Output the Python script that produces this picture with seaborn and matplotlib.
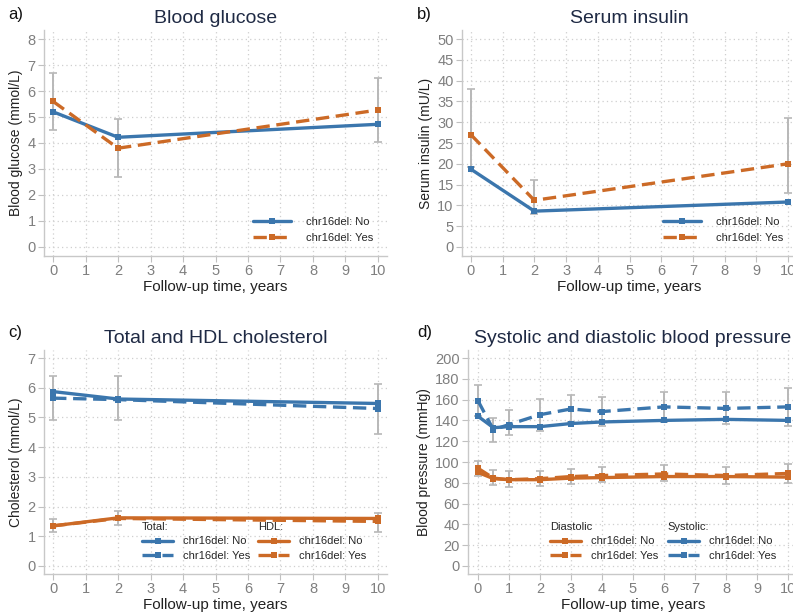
import numpy as np
import pandas as pd
import matplotlib
matplotlib.use("Agg")
import matplotlib.pyplot as plt
import seaborn as sns
from matplotlib.lines import Line2D

# ---------------- data ----------------
years3 = [0, 2, 10]

glucose_no = [5.2, 4.22, 4.72]
glucose_yes = [5.6, 3.8, 5.27]
glucose_yes_lo = [4.5, 2.68, 4.05]
glucose_yes_hi = [6.7, 4.93, 6.5]

insulin_no = [18.7, 8.6, 10.8]
insulin_yes = [27.0, 11.2, 20.0]
insulin_yes_lo = [19.3, 8.0, 13.0]
insulin_yes_hi = [38.0, 16.0, 31.0]

total_no = [5.87, 5.62, 5.47]
total_yes = [5.65, 5.6, 5.3]
total_yes_lo = [4.92, 4.9, 4.45]
total_yes_hi = [6.38, 6.38, 6.13]

hdl_no = [1.35, 1.62, 1.6]
hdl_yes = [1.35, 1.6, 1.5]
hdl_yes_lo = [1.15, 1.38, 1.15]
hdl_yes_hi = [1.58, 1.85, 1.78]

years_bp = [0, 0.5, 1, 2, 3, 4, 6, 8, 10]
sys_no = [144, 133, 134, 134, 137, 138.5, 140, 141, 140]
sys_yes = [159, 131, 136, 145.5, 151, 148.5, 153, 151.5, 153]
sys_yes_lo = [144, 119.5, 125.5, 130, 138, 135, 138, 137, 135]
sys_yes_hi = [174.5, 142.5, 150, 161, 164, 162.5, 167.5, 167.5, 171]
dia_no = [90, 84, 83, 83, 84.5, 85, 86, 86, 85.5]
dia_yes = [94, 84.5, 83, 84, 86, 87, 88.5, 87, 89]
dia_yes_lo = [87, 78, 76, 77, 79, 80.5, 81.5, 79, 80]
dia_yes_hi = [101, 92.5, 91, 91, 93.5, 95, 97, 95.5, 98.5]

groups = ["No", "Yes"]

# ---------------- style ----------------
BLUE = "#3b76ad"
ORANGE = "#cc6a26"
GREY_EB = "#b8b8b8"
TITLE_C = "#1f2a44"
TICK_C = "#7f7f7f"

sns.set_theme(style="white")
plt.rcParams["font.family"] = ["Liberation Sans", "DejaVu Sans"]

fig = plt.figure(figsize=(7.93, 6.13), dpi=100)

W, H = 793, 613
def ax_rect(l, r, t, b):
    return [l / W, 1 - b / H, (r - l) / W, (b - t) / H]

ax_a = fig.add_axes(ax_rect(44, 387, 30, 256))
ax_b = fig.add_axes(ax_rect(462, 797, 30, 256))
ax_c = fig.add_axes(ax_rect(44, 387, 350, 574))
ax_d = fig.add_axes(ax_rect(468, 798, 350, 574))

LW = 2.4
MS = 4.5
dash_map = {"No": "", "Yes": (4, 2)}
marker_map = {"No": "s", "Yes": "s"}


def frame(x, vals_by_group, measure):
    rows = []
    for g, vals in vals_by_group.items():
        for xi, v in zip(x, vals):
            rows.append({"time": xi, "value": v, "group": g, "measure": measure})
    return pd.DataFrame(rows)


def errbars(ax, x, lo, hi):
    lo = np.asarray(lo); hi = np.asarray(hi)
    mid = (lo + hi) / 2
    ax.errorbar(x, mid, yerr=[mid - lo, hi - mid], fmt="none", ecolor=GREY_EB,
                elinewidth=1.4, capsize=3, capthick=1.2, zorder=1)


def style_axis(ax, ylim, yticks, xlim, ylabel, title):
    ax.set_xlim(*xlim)
    ax.set_ylim(*ylim)
    ax.set_xticks(range(0, 11))
    ax.set_yticks(yticks)
    ax.grid(True, linestyle=(0, (1, 2.5)), color="#cfcfcf", linewidth=0.9)
    ax.set_axisbelow(True)
    for s in ["top", "right"]:
        ax.spines[s].set_visible(False)
    for s in ["left", "bottom"]:
        ax.spines[s].set_color("#c8c8c8")
        ax.spines[s].set_linewidth(1.0)
    ax.tick_params(axis="both", which="both", direction="out", length=4, width=0.8,
                   color="#c0c0c0", labelcolor=TICK_C, labelsize=10.5, pad=2,
                   left=True, bottom=True)
    ax.set_xlabel("Follow-up time, years", fontsize=11, color="#222222", labelpad=1)
    ax.set_ylabel(ylabel, fontsize=10, color="#222222", labelpad=3)
    ax.set_title(title, fontsize=14, color=TITLE_C, pad=5)


def lines(ax, df, palette):
    sns.lineplot(data=df, x="time", y="value", hue="measure", style="group",
                 palette=palette, dashes=dash_map, markers=marker_map,
                 linewidth=LW, markersize=MS, markeredgewidth=0,
                 errorbar=None, legend=False, ax=ax, zorder=3)


def handle(color, dashed):
    return Line2D([], [], color=color, lw=LW, marker="s", markersize=MS,
                  markeredgewidth=0, dashes=(4, 2) if dashed else (None, None),
                  linestyle="--" if dashed else "-")

LEG_KW = dict(frameon=False, fontsize=8, handlelength=3.4, handletextpad=1.4,
              labelspacing=0.55, borderpad=0, borderaxespad=0)
LEG_KW2 = dict(frameon=False, fontsize=8, handlelength=2.8, handletextpad=0.9,
               labelspacing=0.4, borderpad=0, borderaxespad=0,
               title_fontsize=8, alignment="left")

# ---------------- panel a ----------------
errbars(ax_a, years3, glucose_yes_lo, glucose_yes_hi)
df_a = frame(years3, {"No": glucose_no, "Yes": glucose_yes}, "g")
sns.lineplot(data=df_a, x="time", y="value", hue="group", style="group",
             palette={"No": BLUE, "Yes": ORANGE}, dashes=dash_map, markers=marker_map,
             linewidth=LW, markersize=MS, markeredgewidth=0, errorbar=None,
             legend=False, ax=ax_a, zorder=3)
style_axis(ax_a, (-0.35, 8.35), range(0, 9), (-0.28, 10.28),
           "Blood glucose (mmol/L)", "Blood glucose")
ax_a.legend([handle(BLUE, False), handle(ORANGE, True)],
            ["chr16del: No", "chr16del: Yes"], loc="center left",
            bbox_to_anchor=(0.609, 0.115), **LEG_KW)

# ---------------- panel b ----------------
errbars(ax_b, years3, insulin_yes_lo, insulin_yes_hi)
df_b = frame(years3, {"No": insulin_no, "Yes": insulin_yes}, "i")
sns.lineplot(data=df_b, x="time", y="value", hue="group", style="group",
             palette={"No": BLUE, "Yes": ORANGE}, dashes=dash_map, markers=marker_map,
             linewidth=LW, markersize=MS, markeredgewidth=0, errorbar=None,
             legend=False, ax=ax_b, zorder=3)
style_axis(ax_b, (-2.2, 52.2), range(0, 51, 5), (-0.28, 10.28),
           "Serum insulin (mU/L)", "Serum insulin")
ax_b.legend([handle(BLUE, False), handle(ORANGE, True)],
            ["chr16del: No", "chr16del: Yes"], loc="center left",
            bbox_to_anchor=(0.60, 0.115), **LEG_KW)

# ---------------- panel c ----------------
errbars(ax_c, years3, total_yes_lo, total_yes_hi)
errbars(ax_c, years3, hdl_yes_lo, hdl_yes_hi)
df_c = pd.concat([frame(years3, {"No": total_no, "Yes": total_yes}, "Total"),
                  frame(years3, {"No": hdl_no, "Yes": hdl_yes}, "HDL")])
lines(ax_c, df_c, {"Total": BLUE, "HDL": ORANGE})
style_axis(ax_c, (-0.27, 7.27), range(0, 8), (-0.28, 10.28),
           "Cholesterol (mmol/L)", "Total and HDL cholesterol")
leg1 = ax_c.legend([handle(BLUE, False), handle(BLUE, True)],
                   ["chr16del: No", "chr16del: Yes"], loc="upper left",
                   bbox_to_anchor=(0.286, 0.232), title="Total:", **LEG_KW2)
ax_c.add_artist(leg1)
ax_c.legend([handle(ORANGE, False), handle(ORANGE, True)],
            ["chr16del: No", "chr16del: Yes"], loc="upper left",
            bbox_to_anchor=(0.624, 0.232), title="HDL:", **LEG_KW2)

# ---------------- panel d ----------------
errbars(ax_d, years_bp, sys_yes_lo, sys_yes_hi)
errbars(ax_d, years_bp, dia_yes_lo, dia_yes_hi)
df_d = pd.concat([frame(years_bp, {"No": sys_no, "Yes": sys_yes}, "Systolic"),
                  frame(years_bp, {"No": dia_no, "Yes": dia_yes}, "Diastolic")])
lines(ax_d, df_d, {"Systolic": BLUE, "Diastolic": ORANGE})
style_axis(ax_d, (-7.7, 207.7), range(0, 201, 20), (-0.32, 10.32),
           "Blood pressure (mmHg)", "Systolic and diastolic blood pressure")
leg3 = ax_d.legend([handle(ORANGE, False), handle(ORANGE, True)],
                   ["chr16del: No", "chr16del: Yes"], loc="upper left",
                   bbox_to_anchor=(0.248, 0.232), title="Diastolic", **LEG_KW2)
ax_d.add_artist(leg3)
ax_d.legend([handle(BLUE, False), handle(BLUE, True)],
            ["chr16del: No", "chr16del: Yes"], loc="upper left",
            bbox_to_anchor=(0.606, 0.232), title="Systolic:", **LEG_KW2)

# panel letters
for txt, x, y in [("a)", 8, 15), ("b)", 417, 15), ("c)", 8, 333), ("d)", 417, 333)]:
    fig.text(x / W, 1 - y / H, txt, fontsize=12, color="#111111", va="center", ha="left")

fig.savefig("out.png", dpi=100)
